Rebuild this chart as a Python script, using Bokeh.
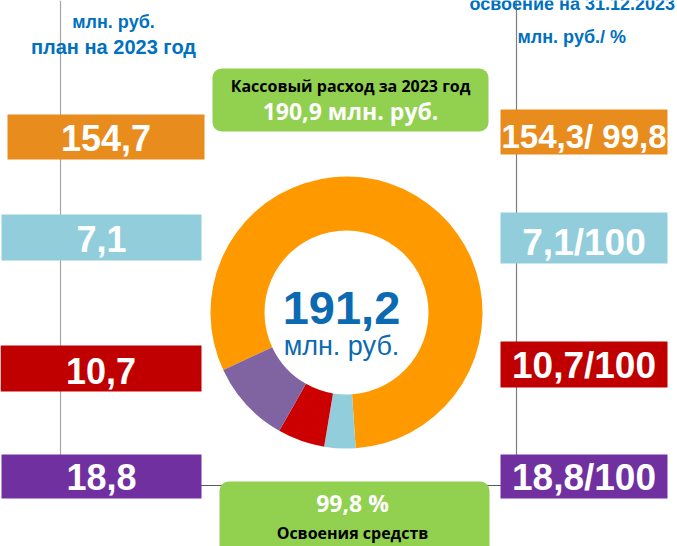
import math
from bokeh.plotting import figure
from bokeh.models import Range1d
from bokeh.embed import file_html
from bokeh.resources import INLINE
from bokeh.core.properties import value

# ---- data ----
series = ["Серия 1", "Серия 2", "Серия 3", "Серия 4"]
plan = [154.7, 7.1, 10.7, 18.8]
right_labels = ["154,3/ 99,8", "7,1/100", "10,7/100", "18,8/100"]
total_label = "191,2"
cash_title = "Кассовый расход за 2023 год"
cash_label = "190,9 млн. руб."
pct_label = "99,8 %"
pct_title = "Освоения средств"
left_header = ["млн. руб.", "план на 2023 год"]
right_header = ["освоение  на 31.12.2023", "млн. руб./ %"]

box_colors = ["#E98C1E", "#92CDDC", "#C00000", "#7030A0"]
donut_colors = ["#FF9900", "#92CDDC", "#CC0000", "#8064A2"]
BLUE = "#0070C0"
GREEN = "#92D050"

W, H = 677, 546
p = figure(width=W, height=H, x_range=Range1d(0, W), y_range=Range1d(0, H),
           output_backend="svg", toolbar_location=None, min_border=0,
           outline_line_color=None)
p.axis.visible = False
p.grid.visible = False
p.background_fill_color = "white"


def Y(v):
    return H - v


def txt(x, y, s, size, color, font="Liberation Sans", bold=True, align="center"):
    p.text(x=[x], y=[Y(y)], text=[s], text_align=align, text_baseline="middle",
           text_color=color, text_font=value(font),
           text_font_style="bold" if bold else "normal", text_font_size=value(size))


# guide lines
p.segment(x0=[60], y0=[Y(0)], x1=[60], y1=[Y(485)], line_color="#A6A6A6", line_width=1.2)
p.segment(x0=[516], y0=[Y(0)], x1=[516], y1=[Y(485)], line_color="#7F7F7F", line_width=1.2)
p.segment(x0=[60], y0=[Y(485)], x1=[516], y1=[Y(485)], line_color="#595959", line_width=1.2)

# left boxes
lt = [114, 214, 345, 454]
lb = [159, 260, 391, 498]
ll = [7, 1, 0, 1]
lr = [204, 201, 201, 201]
p.quad(left=ll, right=lr, top=[Y(v) for v in lt], bottom=[Y(v) for v in lb],
       fill_color=box_colors, line_color=None)
# right boxes
rt = [109, 212, 341, 454]
rb = [154, 263, 387, 498]
p.quad(left=[500] * 4, right=[667] * 4, top=[Y(v) for v in rt], bottom=[Y(v) for v in rb],
       fill_color=box_colors, line_color=None)

left_labels = [("%.1f" % v).replace(".", ",") for v in plan]
lmid = [137.5, 238.5, 370, 476.5]
for lab, a, b, ym in zip(left_labels, ll, lr, lmid):
    txt((a + b) / 2, ym, lab, "36px", "white")
rmid = [135.5, 242, 364.5, 476.5]
rsizes = ["33px", "37px", "37px", "37px"]
for lab, ym, fs in zip(right_labels, rmid, rsizes):
    txt(583.5, ym, lab, fs, "white")

# headers
txt(113, 21.8, left_header[0], "18px", BLUE)
txt(113, 46, left_header[1], "20px", BLUE)
txt(469, 3.8, right_header[0], "18px", BLUE, align="left")
txt(517, 36.8, right_header[1], "18px", BLUE, align="left")

# green boxes
p.quad(left=[212], right=[488], top=[Y(68)], bottom=[Y(131)], fill_color=GREEN,
       line_color=None, border_radius=9)
p.quad(left=[219], right=[489], top=[Y(481)], bottom=[Y(570)], fill_color=GREEN,
       line_color=None, border_radius=9)
txt(350, 85.8, cash_title, "16px", "black", font="Open Sans")
txt(350, 110, cash_label, "23px", "white", font="Open Sans")
txt(352, 502, pct_label, "23px", "white", font="Open Sans")
txt(352, 532, pct_title, "16px", "black", font="Open Sans")

# donut
total = sum(plan)
start_cw = 245.0
cum = start_cw
starts, ends = [], []
for v in plan:
    span = v / total * 360.0
    a0 = math.radians(90.0 - cum)
    a1 = math.radians(90.0 - (cum + span))
    starts.append(a1)
    ends.append(a0)
    cum += span
p.annular_wedge(x=[346] * 4, y=[Y(312)] * 4, inner_radius=82, outer_radius=136,
                start_angle=starts, end_angle=ends, fill_color=donut_colors, line_color=None)

txt(341, 307, total_label, "47px", "#0B6AB2")
txt(341, 345.6, "млн. руб.", "27px", "#0B6AB2", bold=False)

open("out.html", "w").write(file_html(p, INLINE))
